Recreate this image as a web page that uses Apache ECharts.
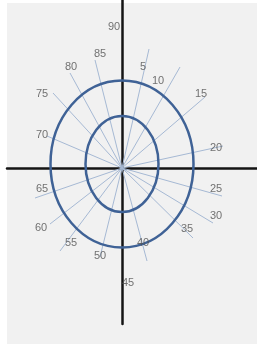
<!DOCTYPE html>
<html><head><meta charset="utf-8">
<script src="https://cdn.jsdelivr.net/npm/echarts@6/dist/echarts.min.js"></script>
<style>html,body{margin:0;padding:0;background:#fff}#c{width:257px;height:345px}</style>
</head><body><div id="c"></div>
<script>
// Angle labels
const angles = ['5','10','15','20','25','30','35','40','45','50','55','60','65','70','75','80','85','90'];
// End points of the radial lines (data units, origin at the axes cross); null = lies on the axis
const rayEndX = [27, 58, 83, 101, 100, 91, 71, 25, null, -22, -62, -72, -87, -75, -69, -52, -27, null];
const rayEndY = [119, 101, 71, 22, -28, -55, -70, -93, null, -89, -83, -56, -30, 32, 75, 95, 108, null];
// Label anchor points (data units)
const labelX = [21, 36, 79, 94, 94, 94, 65, 21, 6, -22, -51, -81, -80, -80, -80, -51, -22, -8];
const labelY = [101, 87, 74, 20, -21, -48, -61, -75, -115, -88, -75, -60, -21, 33, 74, 101, 114, 141];
// Ellipses: centre x, centre y, radius x, radius y (data units)
const ellipseCX = [0, 0];
const ellipseCY = [4, 4];
const ellipseRX = [71.5, 36.5];
const ellipseRY = [83.5, 48];

const rays = [];
angles.forEach((a, i) => { if (rayEndX[i] !== null) rays.push([rayEndX[i], rayEndY[i]]); });
const labels = angles.map((a, i) => ({ name: a, value: [labelX[i], labelY[i]] }));
const ellipses = ellipseCX.map((x, i) => [x, ellipseCY[i], ellipseRX[i], ellipseRY[i]]);

const chart = echarts.init(document.getElementById('c'), null, { renderer: 'canvas' });
const axisCommon = {
  type: 'value',
  axisLine: { show: true, onZero: true, lineStyle: { color: '#141414', width: 2.5 } },
  axisTick: { show: false }, axisLabel: { show: false }, splitLine: { show: false }
};
chart.setOption({
  animation: false,
  backgroundColor: '#ffffff',
  graphic: [{ type: 'rect', z: -10, shape: { x: 7, y: 3, width: 250, height: 341 }, style: { fill: '#f1f1f1' } }],
  grid: { left: 7, right: 0, top: 0, bottom: 21 },
  xAxis: Object.assign({ min: -115, max: 135 }, axisCommon),
  yAxis: Object.assign({ min: -156, max: 168 }, axisCommon),
  series: [
    {
      type: 'custom', z: 2, data: rays,
      renderItem(params, api) {
        const o = api.coord([0, 0]);
        const e = api.coord([api.value(0), api.value(1)]);
        return { type: 'line', shape: { x1: o[0], y1: o[1], x2: e[0], y2: e[1] },
                 style: { stroke: '#a6b9d4', lineWidth: 1 } };
      }
    },
    {
      type: 'custom', z: 3, data: ellipses,
      renderItem(params, api) {
        const c = api.coord([api.value(0), api.value(1)]);
        const s = api.size([api.value(2), api.value(3)]);
        return { type: 'ellipse', shape: { cx: c[0], cy: c[1], rx: s[0], ry: s[1] },
                 style: { fill: null, stroke: '#3f6296', lineWidth: 2.5 } };
      }
    },
    {
      type: 'scatter', z: 5, symbolSize: 0, data: labels,
      label: { show: true, position: 'inside', formatter: '{b}', color: '#505050',
               fontSize: 11, fontFamily: 'Liberation Sans, sans-serif' }
    }
  ]
});
</script></body></html>
